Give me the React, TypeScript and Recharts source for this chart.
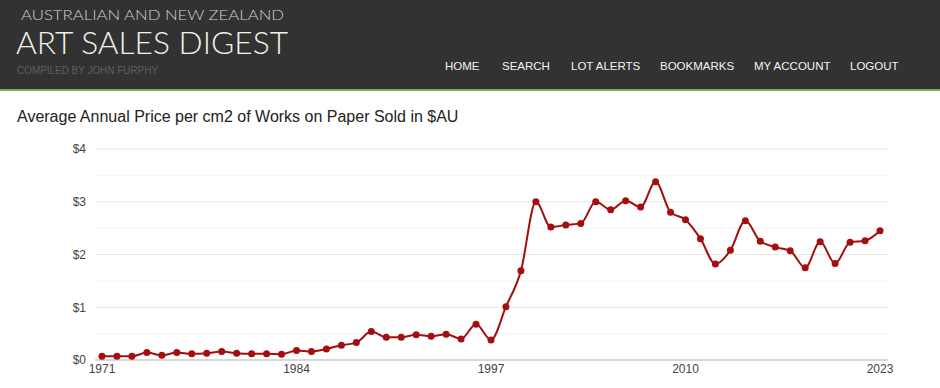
import React from "react";
import { LineChart, Line, XAxis, YAxis, CartesianGrid, ReferenceLine } from "recharts";

const years: number[] = [
  1971, 1972, 1973, 1974, 1975, 1976, 1977, 1978, 1979, 1980,
  1981, 1982, 1983, 1984, 1985, 1986, 1987, 1988, 1989, 1990,
  1991, 1992, 1993, 1994, 1995, 1996, 1997, 1998, 1999, 2000,
  2001, 2002, 2003, 2004, 2005, 2006, 2007, 2008, 2009, 2010,
  2011, 2012, 2013, 2014, 2015, 2016, 2017, 2018, 2019, 2020,
  2021, 2022, 2023,
];
const prices: number[] = [
  0.07, 0.07, 0.07, 0.14, 0.09, 0.14, 0.12, 0.13, 0.16, 0.13,
  0.12, 0.12, 0.11, 0.18, 0.16, 0.21, 0.28, 0.33, 0.54, 0.43,
  0.43, 0.48, 0.45, 0.49, 0.40, 0.68, 0.38, 1.01, 1.69, 3.0,
  2.52, 2.56, 2.59, 3.0, 2.85, 3.02, 2.9, 3.38, 2.8, 2.66,
  2.3, 1.82, 2.08, 2.64, 2.25, 2.14, 2.07, 1.75, 2.24, 1.83,
  2.23, 2.26, 2.45,
];
const xTicks: number[] = [1971, 1984, 1997, 2010, 2023];
const yTicks: number[] = [0, 1, 2, 3, 4];
const yMinorTicks: number[] = [0.5, 1.5, 2.5, 3.5];
const navItems: string[] = ["HOME", "SEARCH", "LOT ALERTS", "BOOKMARKS", "MY ACCOUNT", "LOGOUT"];
const navX: number[] = [445, 502, 571, 660, 754, 850];

const data = years.map((y, i) => ({ year: y, price: prices[i] }));

const RED = "#a30f0f";

export default function App() {
  return (
    <div style={{ position: "absolute", left: 0, top: 0, width: 940, height: 388, background: "#fff", overflow: "hidden" }}>
      <div style={{ position: "absolute", left: 0, top: 0, width: 940, height: 89, background: "#323232" }} />
      <div style={{ position: "absolute", left: 0, top: 89, width: 940, height: 2, background: "#78b15a" }} />
      <svg width={940} height={140} style={{ position: "absolute", left: 0, top: 0 }}>
        <text x={21} y={19.5} fontFamily="Lato, 'DejaVu Sans', sans-serif" fontWeight={300} fontSize={14} fill="#cfcfcf" textLength={263} lengthAdjust="spacingAndGlyphs">
          AUSTRALIAN AND NEW ZEALAND
        </text>
        <text x={16} y={54} fontFamily="Lato, 'DejaVu Sans', sans-serif" fontWeight={300} fontSize={32} fill="#f2f2ea" textLength={272} lengthAdjust="spacingAndGlyphs">
          ART SALES DIGEST
        </text>
        <text x={17} y={74} fontFamily="Arial, 'Liberation Sans', sans-serif" fontSize={10} fill="#5e5e5e" textLength={141} lengthAdjust="spacingAndGlyphs">
          COMPILED BY JOHN FURPHY
        </text>
        {navItems.map((n, i) => (
          <text key={n} x={navX[i]} y={70} fontFamily="Arial, 'Liberation Sans', sans-serif" fontSize={11.5} fill="#f2f2f2">
            {n}
          </text>
        ))}
        <text x={17} y={122} fontFamily="Arial, 'Liberation Sans', sans-serif" fontSize={16} fill="#222">
          Average Annual Price per cm2 of Works on Paper Sold in $AU
        </text>
      </svg>
      <div style={{ position: "absolute", left: 0, top: 0 }}>
        <LineChart width={940} height={388} data={data} margin={{ top: 149, right: 52, bottom: 8, left: 35 }}>
          <CartesianGrid vertical={false} stroke="#e8e8e8" />
          {yMinorTicks.map((v) => (
            <ReferenceLine key={v} y={v} stroke="#f4f4f4" ifOverflow="extendDomain" />
          ))}
          <XAxis
            dataKey="year"
            type="number"
            domain={[1971, 2023]}
            ticks={xTicks}
            padding={{ left: 7, right: 8 }}
            tickLine={false}
            tickSize={0}
            tickMargin={4}
            axisLine={{ stroke: "#bdbdbd", strokeWidth: 1 }}
            tick={{ fill: "#444", fontSize: 12, fontFamily: "Arial, 'Liberation Sans', sans-serif" }}
            interval={0}
            height={20}
          />
          <YAxis
            type="number"
            domain={[0, 4]}
            ticks={yTicks}
            width={60}
            tickLine={false}
            axisLine={false}
            tickMargin={3}
            tickFormatter={(v: number) => "$" + v}
            tick={{ fill: "#444", fontSize: 12, fontFamily: "Arial, 'Liberation Sans', sans-serif" }}
          />
          <Line
            type="monotone"
            dataKey="price"
            stroke={RED}
            strokeWidth={2}
            dot={{ r: 3.5, fill: RED, stroke: RED, strokeWidth: 0 }}
            isAnimationActive={false}
          />
        </LineChart>
      </div>
    </div>
  );
}
